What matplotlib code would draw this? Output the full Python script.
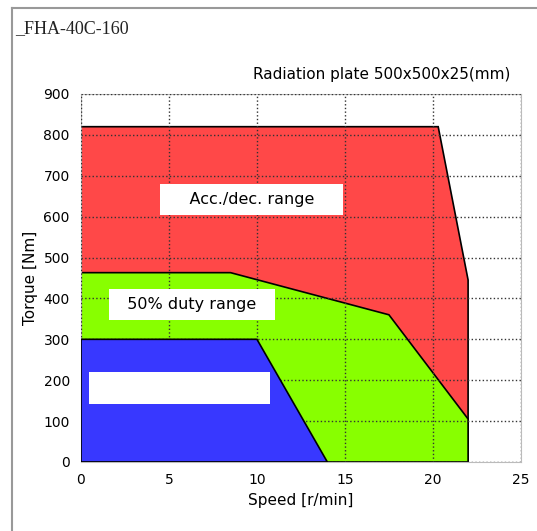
import matplotlib
matplotlib.use("Agg")
import matplotlib.pyplot as plt
from matplotlib.lines import Line2D

# operating ranges (speed r/min, torque Nm)
acc_speed = [0, 0, 20.3, 22, 22]
acc_torque = [0, 820, 820, 445, 0]
duty_speed = [0, 0, 8.5, 17.5, 22, 22]
duty_torque = [0, 463, 463, 360, 105, 0]
cont_speed = [0, 0, 10, 14]
cont_torque = [0, 300, 300, 0]

labels = ["    Acc./dec. range    ", "  50% duty range  ", " " * 32]
label_x = [9.7, 6.3, 5.6]
label_y = [642, 385, 181]

fig = plt.figure(figsize=(5.37, 5.31), dpi=100)
ax = fig.add_axes([0.1508, 0.130, 0.8192, 0.693])

ax.fill(acc_speed, acc_torque, color="#ff4848", ec="black", lw=1.2, zorder=1)
ax.fill(duty_speed, duty_torque, color="#88ff00", ec="black", lw=1.2, zorder=2)
ax.fill(cont_speed, cont_torque, color="#3838ff", ec="black", lw=1.2, zorder=3)

ax.set_xlim(0, 25)
ax.set_ylim(0, 900)
ax.set_xticks(range(0, 26, 5))
ax.set_yticks(range(0, 901, 100))
ax.grid(True, ls=":", color="#333333", lw=1.0, zorder=4)
ax.set_axisbelow(False)
for s in ax.spines.values():
    s.set_color("#bbbbbb")
ax.tick_params(length=0, labelsize=10, pad=8)

for t, x, y in zip(labels, label_x, label_y):
    ax.text(x, y, t, ha="center", va="center", fontsize=11.5, zorder=6,
            bbox=dict(facecolor="white", edgecolor="none", pad=6))

ax.set_xlabel("Speed [r/min]", fontsize=11)
ax.set_ylabel("Torque [Nm]", fontsize=11, labelpad=4,
              bbox=dict(facecolor="white", edgecolor="none", pad=3))

fig.text(0.028, 0.947, "_FHA-40C-160", fontsize=13, family="Liberation Serif",
         color="#222222", va="center")
fig.text(0.95, 0.860, "Radiation plate 500x500x25(mm)", fontsize=11, ha="right",
         va="center")

# outer frame of the original sheet
fig.add_artist(Line2D([0.023, 0.023], [0, 0.985], color="#999999", lw=1.5))
fig.add_artist(Line2D([0.023, 1.0], [0.985, 0.985], color="#999999", lw=1.5))

fig.savefig("out.png", dpi=100)
